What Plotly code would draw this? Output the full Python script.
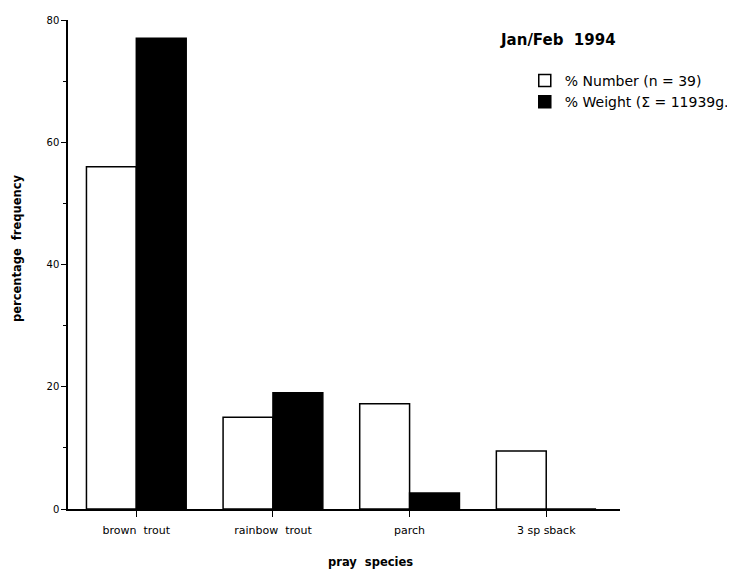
import plotly.graph_objects as go

categories = ["brown\u00a0\u00a0trout", "rainbow\u00a0\u00a0trout", "parch", "3 sp sback"]
pct_number = [56, 15, 17.2, 9.5]
pct_weight = [77, 19, 2.6, 0]
number_label = "% Number (n = 39)"
weight_label = "% Weight (\u03a3 = 11939g."
y_ticks = [0, 20, 40, 60, 80]

FONT = "DejaVu Sans, Liberation Sans, Arial"

fig = go.Figure()
fig.add_trace(go.Bar(x=categories, y=pct_number, name=number_label,
                     marker=dict(color="white", line=dict(color="black", width=1.5))))
fig.add_trace(go.Bar(x=categories, y=pct_weight, name=weight_label,
                     marker=dict(color="black", line=dict(color="black", width=1.5))))

# page has an 8px body margin, so the figure is slightly smaller than the window
W, H = 727, 561
L, R, T, B = 60, 115, 12, 60
pw = W - L - R
ph = H - T - B


def px_x(x):
    return (x - 68) / pw


def px_y(y):
    return (509 - y) / ph


fig.update_layout(
    width=W, height=H,
    margin=dict(l=L, r=R, t=T, b=B, autoexpand=False),
    plot_bgcolor="white", paper_bgcolor="white",
    barmode="group", bargap=0.27, bargroupgap=0,
    font=dict(family=FONT, color="black"),
    showlegend=True,
    legend=dict(x=0.8275, y=0.908, xanchor="left", yanchor="top",
                font=dict(size=14, family=FONT), bgcolor="rgba(0,0,0,0)",
                tracegroupgap=0, itemwidth=30),
    annotations=[
        dict(text="<b>Jan/Feb\u00a0\u00a01994</b>", x=px_x(498), y=px_y(40),
             xref="paper", yref="paper", xanchor="left", yanchor="middle",
             showarrow=False, font=dict(size=15, family=FONT)),
        dict(text="<b>pray\u00a0\u00a0species</b>", x=px_x(370), y=px_y(562),
             xref="paper", yref="paper", xanchor="center", yanchor="middle",
             showarrow=False, font=dict(size=11.5, family=FONT)),
        dict(text="<b>percentage\u00a0\u00a0frequency</b>", x=px_x(17), y=px_y(249),
             xref="paper", yref="paper", xanchor="center", yanchor="middle",
             textangle=-90, showarrow=False, font=dict(size=11.5, family=FONT)),
    ],
)

fig.update_xaxes(
    type="category", range=[-0.5, 3.54], automargin=False,
    showline=True, linecolor="black", linewidth=1.5,
    ticks="outside", ticklen=6, tickcolor="black",
    tickfont=dict(size=11, family=FONT), ticklabelstandoff=4,
    showgrid=False, zeroline=False,
)
fig.update_yaxes(
    range=[0, 80], tickvals=y_ticks, ticktext=[str(v) for v in y_ticks],
    automargin=False,
    showline=True, linecolor="black", linewidth=1.5,
    ticks="outside", ticklen=5, tickcolor="black",
    minor=dict(dtick=10, ticks="outside", ticklen=3, tickcolor="black"),
    tickfont=dict(size=10, family=FONT),
    showgrid=False, zeroline=False,
)

fig.write_html("out.html")
